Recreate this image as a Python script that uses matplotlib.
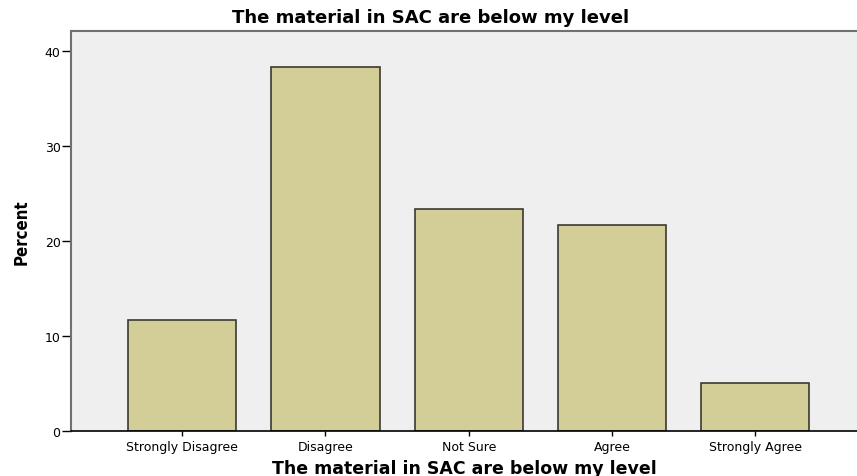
import numpy as np
import matplotlib
matplotlib.use("Agg")
import matplotlib.pyplot as plt

# Response categories and their percentages
categories = ["Strongly Disagree", "Disagree", "Not Sure", "Agree", "Strongly Agree"]
percent = [11.7, 38.3, 23.4, 21.7, 5.0]
yticks = [0, 10, 20, 30, 40]

fig = plt.figure(figsize=(8.57, 4.77), dpi=100)
ax = fig.add_axes([71/857, 1 - 432/477, 1 - 71/857, 400/477])
ax.set_facecolor("#efefef")

x = np.arange(len(categories))
ax.bar(x, percent, width=0.755, color="#d3ce97", edgecolor="#3a3a32", linewidth=1.2, zorder=2)

ax.set_xlim(-0.776, 4.71)
ax.set_ylim(0, 42.1)
ax.set_yticks(yticks)
ax.set_xticks(x)
ax.set_xticklabels(categories, fontsize=9)
ax.tick_params(axis="y", labelsize=9, length=6.5, width=1, pad=1)
ax.tick_params(axis="x", length=3.5, width=1, pad=3)

for side in ["left", "top"]:
    ax.spines[side].set_color("#707070")
    ax.spines[side].set_linewidth(1.5)
ax.spines["right"].set_visible(False)
ax.spines["bottom"].set_color("black")
ax.spines["bottom"].set_linewidth(1.2)

# title is centred on the figure, not the axes
fig.text(431/857, 1 - 18/477, "The material in SAC are below my level",
         fontsize=13, fontweight="bold", ha="center", va="center")
ax.set_xlabel("The material in SAC are below my level", fontsize=12.5, fontweight="bold", labelpad=4)
ax.set_ylabel("Percent", fontsize=12, fontweight="bold", fontstretch="condensed", labelpad=10)

fig.savefig("out.png", dpi=100)
